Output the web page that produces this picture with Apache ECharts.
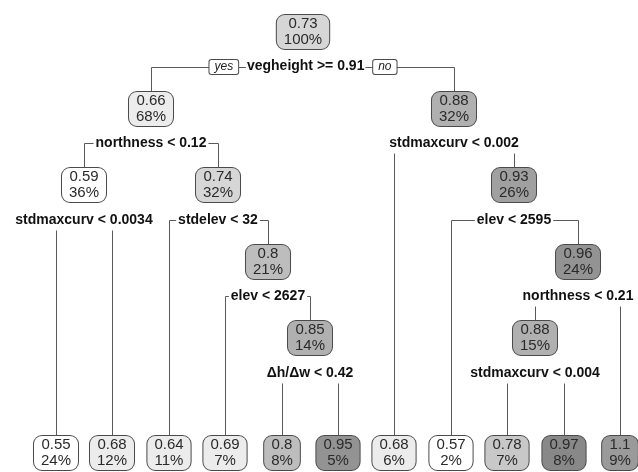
<!DOCTYPE html>
<html><head><meta charset="utf-8">
<script src="https://cdn.jsdelivr.net/npm/echarts@6/dist/echarts.min.js"></script>
<style>html,body{margin:0;padding:0;background:#fff}#c{width:638px;height:472px}</style>
</head><body><div id="c"></div>
<script>
// rpart node ids (root = 1, children of k are 2k and 2k+1), preorder
const nodeIds      = [1, 2, 4, 8, 9, 5, 10, 11, 22, 23, 46, 47, 3, 6, 7, 14, 15, 30, 60, 61, 31];
const nodeValues   = [0.73, 0.66, 0.59, 0.55, 0.68, 0.74, 0.64, 0.8, 0.69, 0.85, 0.8, 0.95, 0.88, 0.68, 0.93, 0.57, 0.96, 0.88, 0.78, 0.97, 1.1];
const nodePercents = [100, 68, 36, 24, 12, 32, 11, 21, 7, 14, 8, 5, 32, 6, 26, 2, 24, 15, 7, 8, 9];
const splitNodes   = [1, 2, 4, 5, 11, 23, 3, 7, 15, 30];
const splitLabels  = ['vegheight >= 0.91', 'northness < 0.12', 'stdmaxcurv < 0.0034', 'stdelev < 32',
                      'elev < 2627', 'Δh/Δw < 0.42', 'stdmaxcurv < 0.002', 'elev < 2595',
                      'northness < 0.21', 'stdmaxcurv < 0.004'];
const yesLabel = 'yes', noLabel = 'no';

// ---- layout (computed from tree structure) ----
const idSet = new Set(nodeIds);
const isLeaf = id => !idSet.has(2 * id);
const depthOf = id => Math.floor(Math.log2(id));
const LEAF_LEVEL = 5.5;
const pos = {};
let leafCounter = 0;
function layout(id) {
  if (isLeaf(id)) { pos[id] = { x: leafCounter++, y: LEAF_LEVEL }; }
  else {
    layout(2 * id); layout(2 * id + 1);
    pos[id] = { x: (pos[2 * id].x + pos[2 * id + 1].x) / 2, y: depthOf(id) };
  }
}
layout(1);

// ---- styles ----
const FONT = '"Liberation Sans", Arial, Helvetica, sans-serif';
const LABEL_OFF = 34.5;
const EDGE = '#5a5a5a';
function fillFor(v) {
  if (v < 0.62) return '#ffffff';
  if (v < 0.70) return '#ececec';
  if (v < 0.76) return '#d6d6d6';
  if (v < 0.79) return '#c8c8c8';
  if (v < 0.83) return '#bdbdbd';
  if (v < 0.90) return '#b0b0b0';
  if (v < 0.94) return '#a0a0a0';
  if (v < 0.965) return '#939393';
  if (v < 1.0) return '#888888';
  return '#9a9a9a';
}

const edgeData = nodeIds.filter(id => id !== 1).map(id => {
  const p = pos[Math.floor(id / 2)], c = pos[id];
  return [p.x, p.y, c.x, c.y];
});
const nodeData = nodeIds.map((id, i) => [pos[id].x, pos[id].y, i]);
const splitData = splitNodes.map((id, i) => [pos[id].x, pos[id].y, i]);

const chart = echarts.init(document.getElementById('c'), null, { renderer: 'canvas' });
chart.setOption({
  animation: false,
  backgroundColor: '#ffffff',
  grid: { left: 56, right: 18, top: 32, bottom: 19 },
  xAxis: { type: 'value', min: 0, max: 10, show: false },
  yAxis: { type: 'value', min: 0, max: LEAF_LEVEL, inverse: true, show: false },
  series: [
    {
      type: 'custom', clip: false, z: 1, silent: true,
      data: edgeData,
      renderItem: (params, api) => {
        const p = api.coord([api.value(0), api.value(1)]);
        const c = api.coord([api.value(2), api.value(3)]);
        const ly = Math.round(p[1] + LABEL_OFF) + 0.5;
        const cx = Math.round(c[0]) + 0.5;
        return {
          type: 'polyline',
          shape: { points: [[Math.round(p[0]) + 0.5, ly], [cx, ly], [cx, c[1]]] },
          style: { stroke: EDGE, lineWidth: 1, fill: null }
        };
      }
    },
    {
      type: 'custom', clip: false, z: 2, silent: true,
      data: nodeData,
      renderItem: (params, api) => {
        const c = api.coord([api.value(0), api.value(1)]);
        const i = api.value(2);
        return {
          type: 'text', x: Math.round(c[0]), y: Math.round(c[1]),
          style: {
            text: String(nodeValues[i]) + '\n' + nodePercents[i] + '%',
            align: 'center', verticalAlign: 'middle',
            font: '15px ' + FONT, lineHeight: 16, fill: '#2a2a2a',
            backgroundColor: fillFor(nodeValues[i]),
            borderColor: '#4a4a4a', borderWidth: 1, borderRadius: 8,
            padding: [1, 7, 1, 7]
          }
        };
      }
    },
    {
      type: 'custom', clip: false, z: 3, silent: true,
      data: splitData,
      renderItem: (params, api) => {
        const c = api.coord([api.value(0), api.value(1)]);
        const i = api.value(2);
        const x = Math.round(c[0]), y = Math.round(c[1] + LABEL_OFF);
        if (splitNodes[i] === 1) {
          return {
            type: 'text', x: x, y: y,
            style: {
              text: '{yes|' + yesLabel + '}  {b|' + splitLabels[i] + '}  {no|' + noLabel + '}',
              align: 'center', verticalAlign: 'middle',
              font: 'bold 14px ' + FONT, fill: '#111',
              rich: {
                yes: { font: 'italic 12px ' + FONT, fill: '#222', backgroundColor: '#fff', borderColor: '#4a4a4a', borderWidth: 1, borderRadius: 2, padding: [1, 5, 1, 5], lineHeight: 13 },
                no:  { font: 'italic 12px ' + FONT, fill: '#222', backgroundColor: '#fff', borderColor: '#4a4a4a', borderWidth: 1, borderRadius: 2, padding: [1, 5, 1, 5], lineHeight: 13 },
                b:   { font: 'bold 14px ' + FONT, fill: '#111', backgroundColor: '#fff', padding: [1, 1, 3, 1], lineHeight: 16 }
              }
            }
          };
        }
        return {
          type: 'text', x: x, y: y,
          style: {
            text: splitLabels[i], align: 'center', verticalAlign: 'middle',
            font: 'bold 14px ' + FONT, fill: '#111', lineHeight: 16,
            backgroundColor: '#fff', padding: [1, 2, 4, 2]
          }
        };
      }
    }
  ]
});
</script></body></html>
